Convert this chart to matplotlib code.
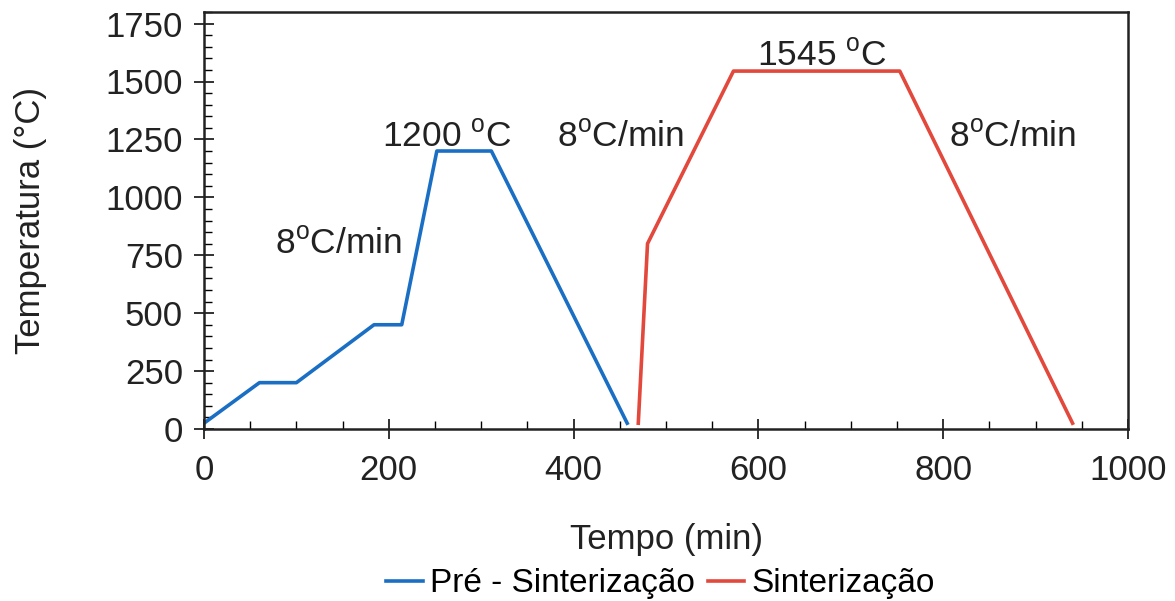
import matplotlib
matplotlib.use("Agg")
from matplotlib import pyplot as plt
from matplotlib.ticker import MultipleLocator

plt.rcParams['font.family'] = ['Liberation Sans', 'DejaVu Sans']
plt.rcParams['mathtext.fontset'] = 'custom'
plt.rcParams['mathtext.rm'] = 'Liberation Sans'

# pre-sintering cycle
pre_t = [0, 60, 100, 184, 214, 252, 311, 458]
pre_T = [25, 200, 200, 450, 450, 1200, 1200, 25]
# sintering cycle
sin_t = [470, 480, 573, 753, 940]
sin_T = [25, 800, 1545, 1545, 25]

labels = ['Pré - Sinterização', 'Sinterização']
notes = ['8$^{\\rm o}$C/min', '1200 $^{\\rm o}$C', '8$^{\\rm o}$C/min', '1545 $^{\\rm o}$C', '8$^{\\rm o}$C/min']
note_xy = [(146, 800), (263, 1260), (451, 1260), (669, 1610), (875, 1260)]

fig = plt.figure(figsize=(11.75, 6.01), dpi=100)
ax = fig.add_axes([204/1175, 1 - 429/601, (1128-204)/1175, (429-12)/601])

ax.plot(pre_t, pre_T, color='#1a6fc4', lw=2.6, label=labels[0])
ax.plot(sin_t, sin_T, color='#e2483b', lw=2.6, label=labels[1])

for s, (x, y) in zip(notes, note_xy):
    ax.text(x, y, s, fontsize=25.5, ha='center', va='center', color='#222222')

ax.set_xlim(0, 1000)
ax.set_ylim(0, 1800)
ax.xaxis.set_major_locator(MultipleLocator(200))
ax.xaxis.set_minor_locator(MultipleLocator(50))
ax.yaxis.set_major_locator(MultipleLocator(250))
ax.yaxis.set_minor_locator(MultipleLocator(50))
ax.tick_params(which='major', direction='inout', length=14, width=1.3, labelsize=25, colors='#222222')
ax.tick_params(which='minor', direction='in', length=6, width=1.0)
ax.tick_params(axis='x', which='major', pad=11)
ax.tick_params(axis='y', which='major', pad=8)
for sp in ax.spines.values():
    sp.set_linewidth(1.8)
    sp.set_color('#222222')

ax.set_xlabel('Tempo (min)', fontsize=25, labelpad=26, color='#222222')
ax.set_ylabel('Temperatura (°C)', fontsize=25, labelpad=42, color='#222222')

fig.legend(loc='lower center', bbox_to_anchor=(0.562, -0.047), ncol=2, frameon=False,
           fontsize=24, handlelength=1.1, handletextpad=0.2, columnspacing=0.4)

fig.savefig('out.png', dpi=100, facecolor='white')
